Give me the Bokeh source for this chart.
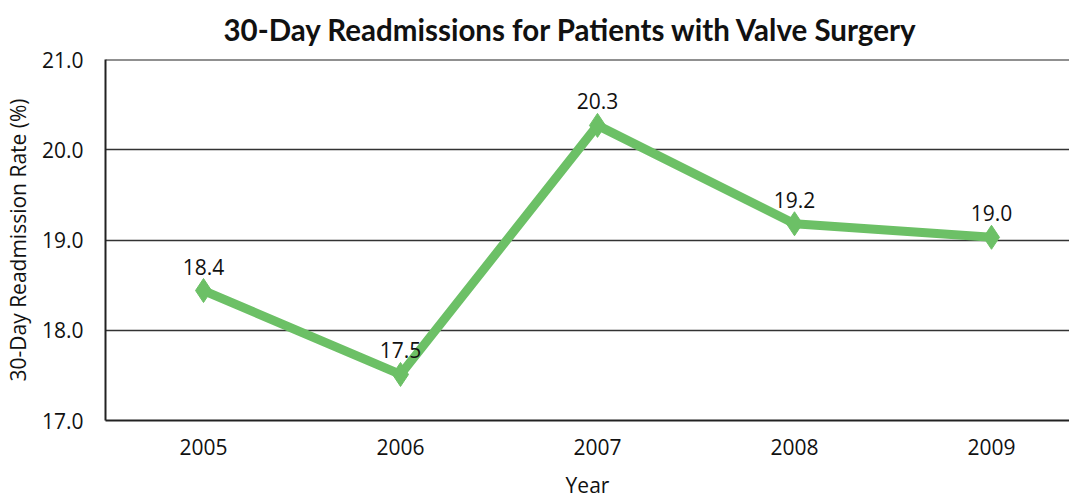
from bokeh.plotting import figure
from bokeh.models import ColumnDataSource, Range1d, FixedTicker, Title
from bokeh.embed import file_html
from bokeh.resources import INLINE
from bokeh.core.properties import value

years = [2005, 2006, 2007, 2008, 2009]
rates = [18.44, 17.51, 20.27, 19.18, 19.03]
labels = ["18.4", "17.5", "20.3", "19.2", "19.0"]
y_ticks = [17, 18, 19, 20, 21]
title_text = "30-Day Readmissions for Patients with Valve Surgery"

TITLE_FONT = "Lato"
FONT = "Open Sans"
GREEN = "#6cc066"

src = ColumnDataSource(data=dict(x=years, y=rates, lab=labels))

X0, X1 = 2004.5025, 2009.396

p = figure(frame_width=964, frame_height=361, output_backend="svg", toolbar_location=None,
           x_range=Range1d(X0, X1), y_range=Range1d(17, 21),
           min_border_left=96, min_border_right=0, min_border_top=52, min_border_bottom=0)

p.title = Title(text=title_text, align="left", vertical_align="top",
                text_font=TITLE_FONT, text_font_size="29.5px", text_font_style="bold",
                text_color="#111111", offset=118, standoff=22)

p.outline_line_color = None
p.background_fill_color = "white"
p.border_fill_color = "white"

p.xgrid.grid_line_color = None
p.ygrid.grid_line_color = "#333333"
p.ygrid.grid_line_width = 1.5
p.ygrid.ticker = FixedTicker(ticks=y_ticks)

p.yaxis.ticker = FixedTicker(ticks=y_ticks)
p.yaxis.major_label_overrides = {t: f"{t:.1f}" for t in y_ticks}
p.xaxis.ticker = FixedTicker(ticks=years)
p.xaxis.major_label_overrides = {y: str(y) for y in years}

for ax in (p.xaxis[0], p.yaxis[0]):
    ax.major_tick_line_color = None
    ax.minor_tick_line_color = None
    ax.axis_line_color = "#222222"
    ax.axis_line_width = 2
    ax.major_label_text_font = FONT
    ax.major_label_text_font_size = "21px"
    ax.major_label_text_color = "#111111"
    ax.axis_label_text_font = FONT
    ax.axis_label_text_font_size = "21px"
    ax.axis_label_text_font_style = "normal"
    ax.axis_label_text_color = "#111111"

p.xaxis.axis_label = "Year"
p.yaxis.axis_label = "30-Day Readmission Rate (%)"
p.xaxis.major_label_standoff = 12
p.xaxis.axis_label_standoff = 13
p.yaxis.major_label_standoff = 16
p.yaxis.axis_label_standoff = 7

# top border line
p.line(x=[X0, X1], y=[21, 21], line_color="#222222", line_width=2)

p.line("x", "y", source=src, line_color=GREEN, line_width=9)
p.scatter("x", "y", source=src, marker="diamond", size=24, fill_color=GREEN, line_color=GREEN)
p.text("x", "y", text="lab", source=src, y_offset=-24, text_align="center", text_baseline="middle",
       text_font=value(FONT), text_font_size="21px", text_color="#111111")

open("out.html", "w").write(file_html(p, INLINE))
